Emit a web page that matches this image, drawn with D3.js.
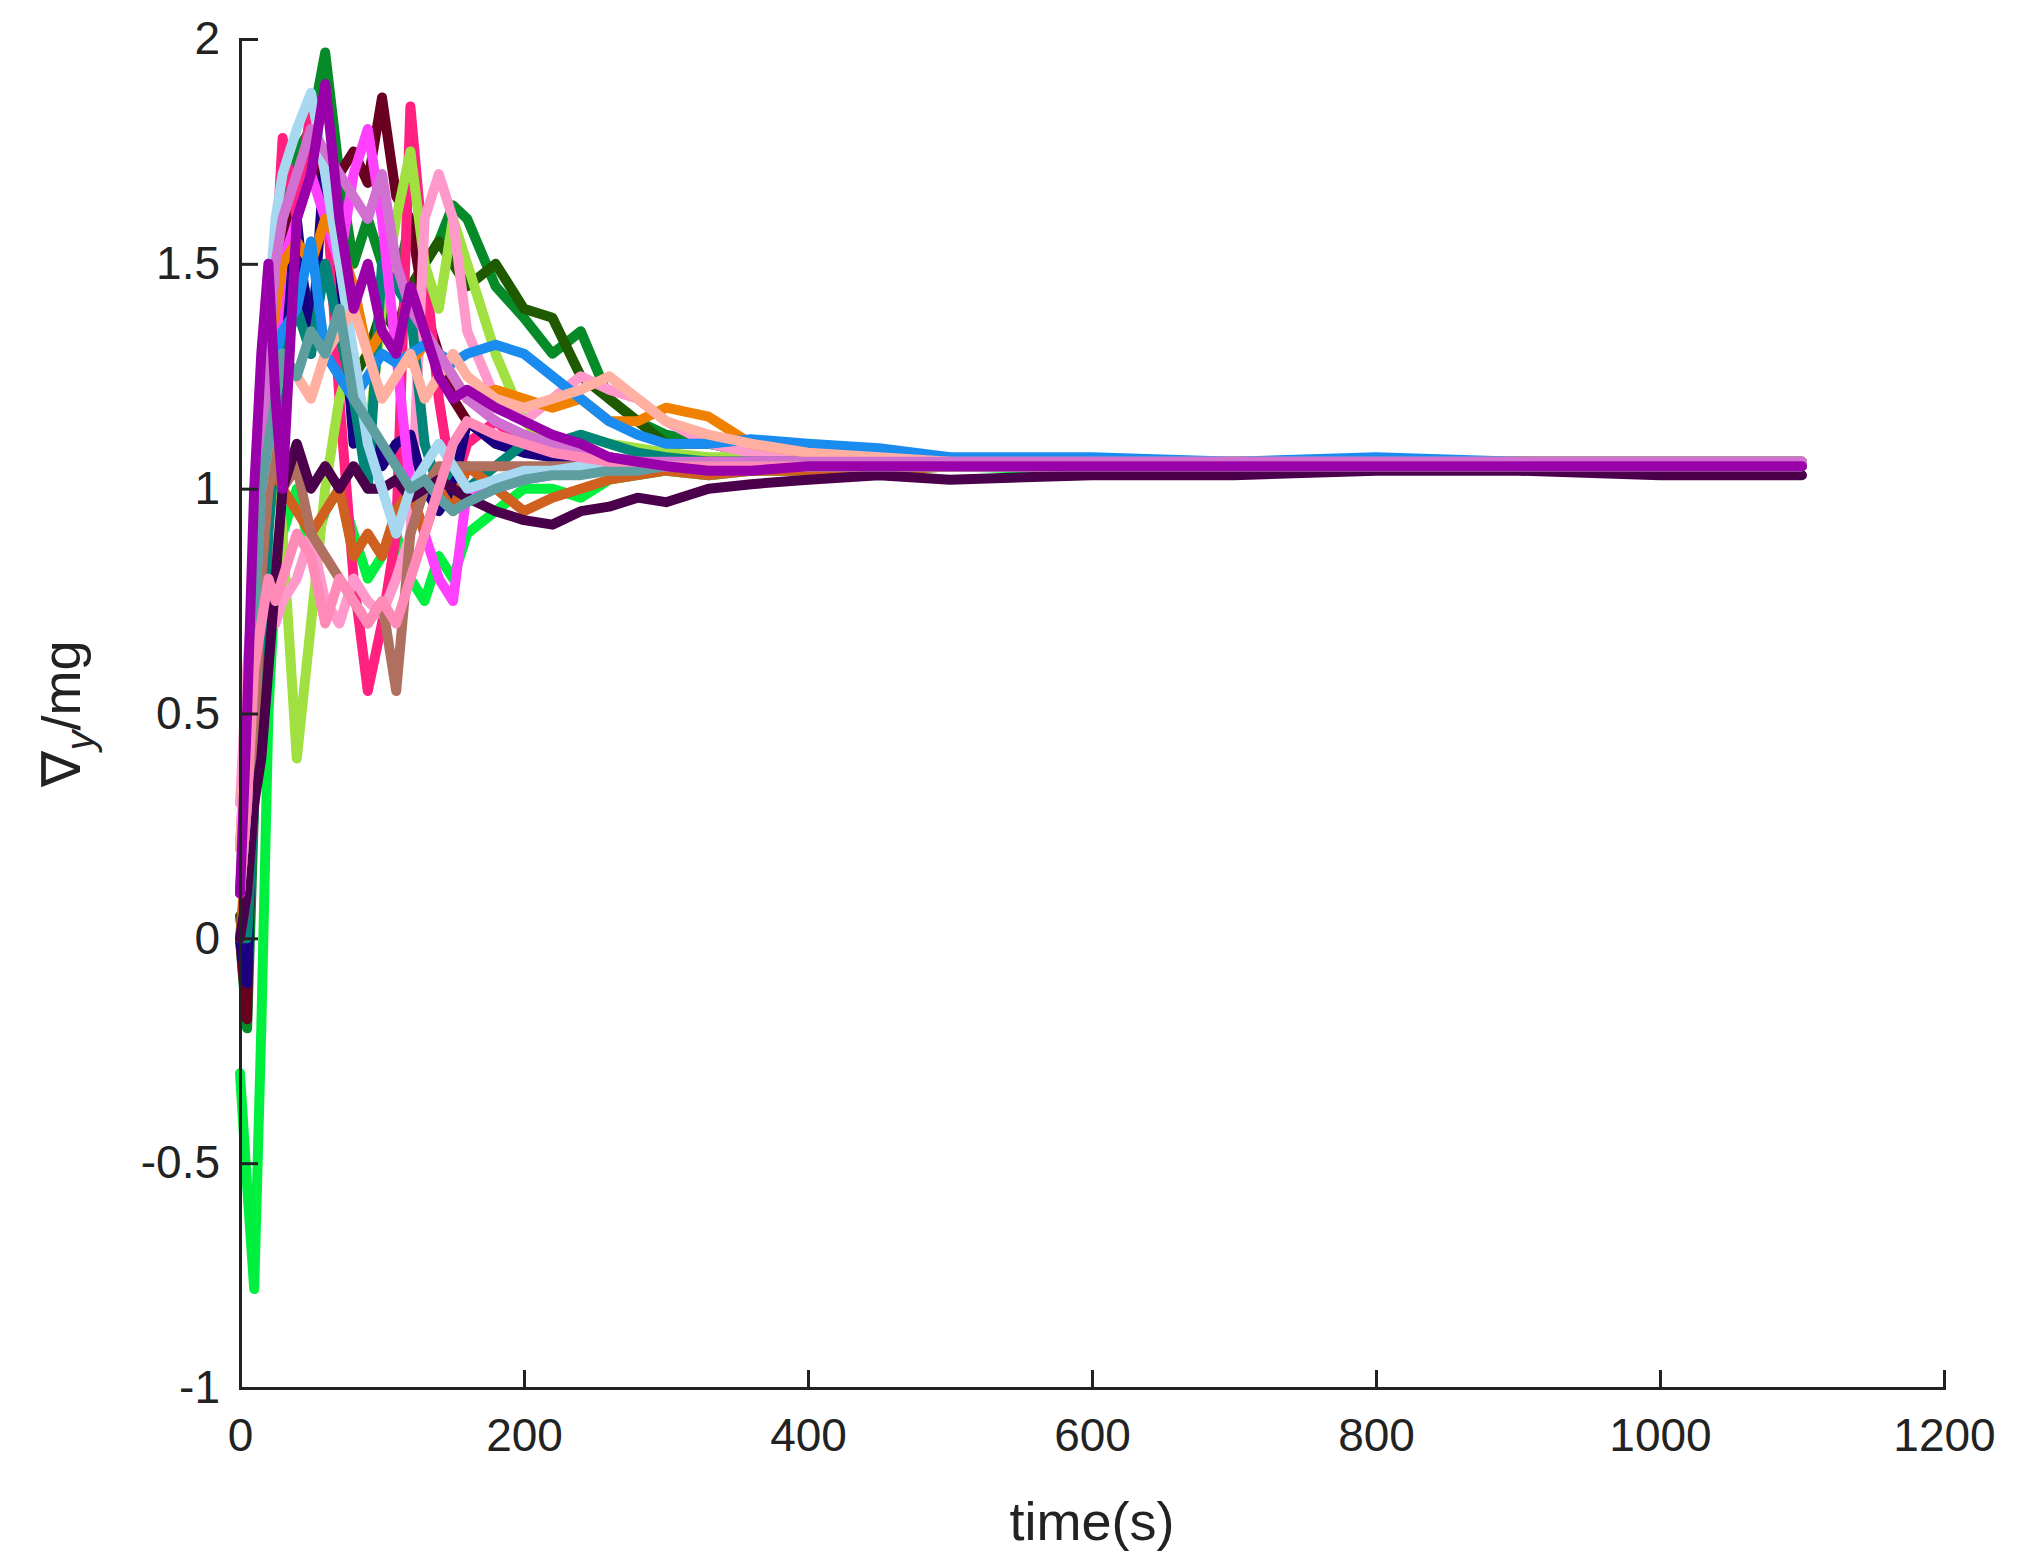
<!DOCTYPE html>
<html><head><meta charset="utf-8">
<script src="https://cdn.jsdelivr.net/npm/d3@7"></script>
<style>body{margin:0;background:#fff}text{font-family:"Liberation Sans",Arial,sans-serif;fill:#222}</style>
</head><body><svg id="c" width="2023" height="1561"></svg>
<script>
const times=[0,5,10,15,20,25,30,40,50,60,70,80,90,100,110,120,130,140,150,160,180,200,220,240,260,280,300,330,360,400,450,500,600,700,800,900,1000,1100];
const xTicks=[0,200,400,600,800,1000,1200];
const yTicks=[-1,-0.5,0,0.5,1,1.5,2];
const colors=["#078a28","#1f5a00","#00f040","#6a0020","#ff2080","#a0e040","#ff99cc","#1a0080","#008578","#ff40ff","#f08000","#1a8cf0","#d06020","#b07060","#4a004a","#a8d8f0","#ffb0a0","#d070d0","#5f9ea0","#ff8ab8","#9a00aa"];
const series=[
[0,-0.2,0.3,0.9,1.2,1.4,1.6,1.75,1.8,1.97,1.7,1.5,1.6,1.5,1.45,1.6,1.5,1.55,1.63,1.6,1.45,1.38,1.3,1.35,1.2,1.15,1.12,1.1,1.08,1.06,1.05,1.05,1.05,1.06,1.05,1.06,1.06,1.06],
[0.05,-0.1,0.5,1.0,1.25,1.2,1.3,1.5,1.4,1.3,1.35,1.25,1.3,1.4,1.35,1.45,1.5,1.55,1.5,1.45,1.5,1.4,1.38,1.25,1.2,1.15,1.1,1.1,1.08,1.07,1.06,1.06,1.05,1.05,1.06,1.06,1.05,1.05],
[-0.3,-0.55,-0.78,-0.2,0.5,0.8,0.9,1.0,0.85,0.95,1.0,0.9,0.8,0.85,0.9,0.8,0.75,0.85,0.8,0.9,0.95,1.0,1.0,0.98,1.02,1.03,1.04,1.03,1.04,1.04,1.04,1.05,1.04,1.05,1.05,1.05,1.05,1.05],
[0,-0.18,0.6,1.27,1.1,1.2,1.5,1.7,1.75,1.65,1.7,1.75,1.68,1.87,1.65,1.6,1.4,1.3,1.2,1.15,1.1,1.12,1.1,1.08,1.07,1.06,1.06,1.05,1.05,1.05,1.05,1.05,1.05,1.05,1.05,1.05,1.05,1.05],
[0.1,0.3,0.8,1.1,1.3,1.5,1.78,1.6,1.85,1.7,1.2,0.8,0.55,0.7,0.9,1.85,1.5,1.2,1.0,1.1,1.15,1.1,1.08,1.07,1.06,1.06,1.05,1.05,1.05,1.05,1.05,1.05,1.05,1.05,1.05,1.05,1.05,1.05],
[0.2,0.4,0.7,0.9,1.0,1.1,0.9,0.4,0.7,1.0,1.2,1.3,1.1,1.4,1.6,1.75,1.5,1.4,1.6,1.5,1.3,1.15,1.1,1.12,1.1,1.09,1.08,1.07,1.07,1.06,1.06,1.06,1.05,1.06,1.06,1.06,1.06,1.06],
[0.3,0.6,0.8,0.85,0.9,0.7,0.75,0.8,0.9,0.75,0.7,0.8,0.75,0.72,0.8,0.9,1.6,1.7,1.6,1.35,1.2,1.15,1.2,1.25,1.22,1.2,1.15,1.1,1.08,1.06,1.06,1.05,1.05,1.06,1.06,1.06,1.06,1.06],
[0,-0.1,0.5,0.9,1.1,1.2,1.35,1.6,1.3,1.75,1.5,1.1,1.15,1.05,1.1,1.12,1.0,0.95,1.0,1.15,1.1,1.08,1.07,1.07,1.06,1.06,1.06,1.06,1.06,1.06,1.06,1.06,1.06,1.06,1.06,1.06,1.06,1.06],
[0,0,0.3,0.6,0.9,1.1,1.3,1.4,1.3,1.5,1.35,1.2,1.0,1.5,1.45,1.4,1.1,1.0,1.05,1.0,1.05,1.1,1.1,1.12,1.1,1.08,1.07,1.06,1.06,1.05,1.05,1.05,1.05,1.05,1.05,1.05,1.05,1.05],
[0.2,0.5,0.8,1.0,1.2,1.3,1.5,1.6,1.7,1.6,1.5,1.7,1.8,1.6,1.3,1.0,0.9,0.8,0.75,1.0,1.0,1.02,1.03,1.04,1.05,1.05,1.04,1.05,1.05,1.05,1.05,1.05,1.05,1.05,1.05,1.05,1.05,1.05],
[0.1,0.4,0.9,1.2,1.3,1.4,1.5,1.55,1.5,1.6,1.55,1.45,1.3,1.35,1.3,1.28,1.32,1.3,1.25,1.2,1.22,1.2,1.18,1.2,1.15,1.15,1.18,1.16,1.1,1.08,1.07,1.06,1.06,1.06,1.06,1.06,1.06,1.06],
[0.1,0.3,0.8,1.1,1.2,1.3,1.35,1.4,1.55,1.3,1.25,1.2,1.25,1.3,1.28,1.3,1.32,1.3,1.28,1.3,1.32,1.3,1.25,1.2,1.15,1.12,1.1,1.1,1.11,1.1,1.09,1.07,1.07,1.06,1.07,1.06,1.06,1.06],
[0,0.2,0.6,0.9,1.0,1.05,1.0,0.95,0.9,0.95,1.0,0.85,0.9,0.85,0.95,1.0,0.9,1.0,0.95,1.05,1.0,0.95,0.98,1.0,1.02,1.03,1.04,1.03,1.04,1.04,1.04,1.05,1.05,1.05,1.05,1.05,1.05,1.05],
[0,0.1,0.4,0.8,1.0,1.1,1.0,1.05,0.9,0.85,0.8,0.75,0.7,0.75,0.55,0.9,1.0,1.05,1.05,1.05,1.05,1.05,1.05,1.05,1.05,1.05,1.05,1.05,1.05,1.05,1.05,1.05,1.05,1.05,1.05,1.05,1.05,1.05],
[0,0.1,0.3,0.4,0.6,0.8,1.0,1.1,1.0,1.05,1.0,1.05,1.0,1.0,1.02,0.98,1.0,1.02,1.0,0.98,0.95,0.93,0.92,0.95,0.96,0.98,0.97,1.0,1.01,1.02,1.03,1.02,1.03,1.03,1.04,1.04,1.03,1.03],
[0.1,0.4,0.9,1.2,1.4,1.6,1.7,1.8,1.88,1.7,1.5,1.3,1.1,1.0,0.9,1.0,1.05,1.1,1.05,1.0,1.02,1.04,1.04,1.05,1.05,1.05,1.05,1.05,1.05,1.05,1.05,1.05,1.05,1.05,1.05,1.05,1.05,1.05],
[0.2,0.5,0.85,1.0,1.1,1.2,1.3,1.25,1.2,1.3,1.35,1.4,1.3,1.2,1.25,1.3,1.2,1.25,1.3,1.25,1.2,1.18,1.2,1.22,1.25,1.2,1.15,1.12,1.1,1.08,1.07,1.06,1.06,1.06,1.06,1.06,1.06,1.06],
[0.1,0.3,0.7,1.0,1.3,1.5,1.6,1.7,1.8,1.75,1.7,1.65,1.6,1.7,1.5,1.4,1.35,1.3,1.25,1.2,1.15,1.12,1.1,1.08,1.07,1.06,1.06,1.06,1.06,1.06,1.06,1.06,1.06,1.06,1.06,1.06,1.06,1.06],
[0.1,0.3,0.7,1.0,1.1,1.2,1.3,1.25,1.35,1.3,1.4,1.2,1.15,1.1,1.05,1.0,1.02,0.98,0.95,0.97,1.0,1.02,1.03,1.03,1.04,1.04,1.05,1.05,1.05,1.05,1.05,1.05,1.05,1.05,1.05,1.05,1.05,1.05],
[0.1,0.3,0.6,0.7,0.8,0.75,0.8,0.9,0.85,0.7,0.8,0.75,0.7,0.75,0.7,0.8,0.9,1.0,1.1,1.15,1.12,1.1,1.08,1.07,1.06,1.06,1.05,1.05,1.05,1.05,1.05,1.05,1.05,1.05,1.05,1.05,1.05,1.05],
[0.1,0.5,1.0,1.3,1.5,1.2,1.0,1.6,1.7,1.9,1.6,1.4,1.5,1.35,1.3,1.45,1.35,1.25,1.2,1.22,1.18,1.15,1.12,1.1,1.07,1.06,1.05,1.04,1.04,1.05,1.05,1.05,1.05,1.05,1.05,1.05,1.05,1.05]
];
const svg=d3.select("#c");
const L=240,R=1944,T=39,B=1388;
const x=d3.scaleLinear().domain([0,1200]).range([L,R]);
const y=d3.scaleLinear().domain([-1,2]).range([B,T]);
const line=d3.line().x((d,i)=>x(times[i])).y(d=>y(d));
svg.append("g").selectAll("path").data(series).join("path")
 .attr("d",line).attr("fill","none").attr("stroke",(d,i)=>colors[i])
 .attr("stroke-width",10).attr("stroke-linejoin","round").attr("stroke-linecap","round");
const xa=svg.append("g").attr("transform",`translate(0,${B})`).call(d3.axisBottom(x).tickValues(xTicks).tickSize(-18).tickPadding(22).tickFormat(d3.format("d")));
const ya=svg.append("g").attr("transform",`translate(${L},0)`).call(d3.axisLeft(y).tickValues(yTicks).tickSize(-18).tickPadding(20).tickFormat(d=>String(d)));
[xa,ya].forEach(a=>{a.select(".domain").attr("stroke","#222").attr("stroke-width",3);
 a.selectAll(".tick line").attr("stroke","#222").attr("stroke-width",3);
 a.selectAll("text").attr("font-size",46).style("fill","#222");});
xa.selectAll("text").attr("dy","0.9em");
svg.append("text").attr("x",(L+R)/2).attr("y",1540).attr("text-anchor","middle").attr("font-size",54).text("time(s)");
const yl=svg.append("text").attr("transform",`translate(80,${(T+B)/2}) rotate(-90)`).attr("text-anchor","middle").attr("font-size",54);
yl.append("tspan").text("∇");
yl.append("tspan").attr("font-size",40).attr("font-style","italic").attr("dy",14).text("y");
yl.append("tspan").attr("dy",-14).text("/mg");
</script></body></html>
